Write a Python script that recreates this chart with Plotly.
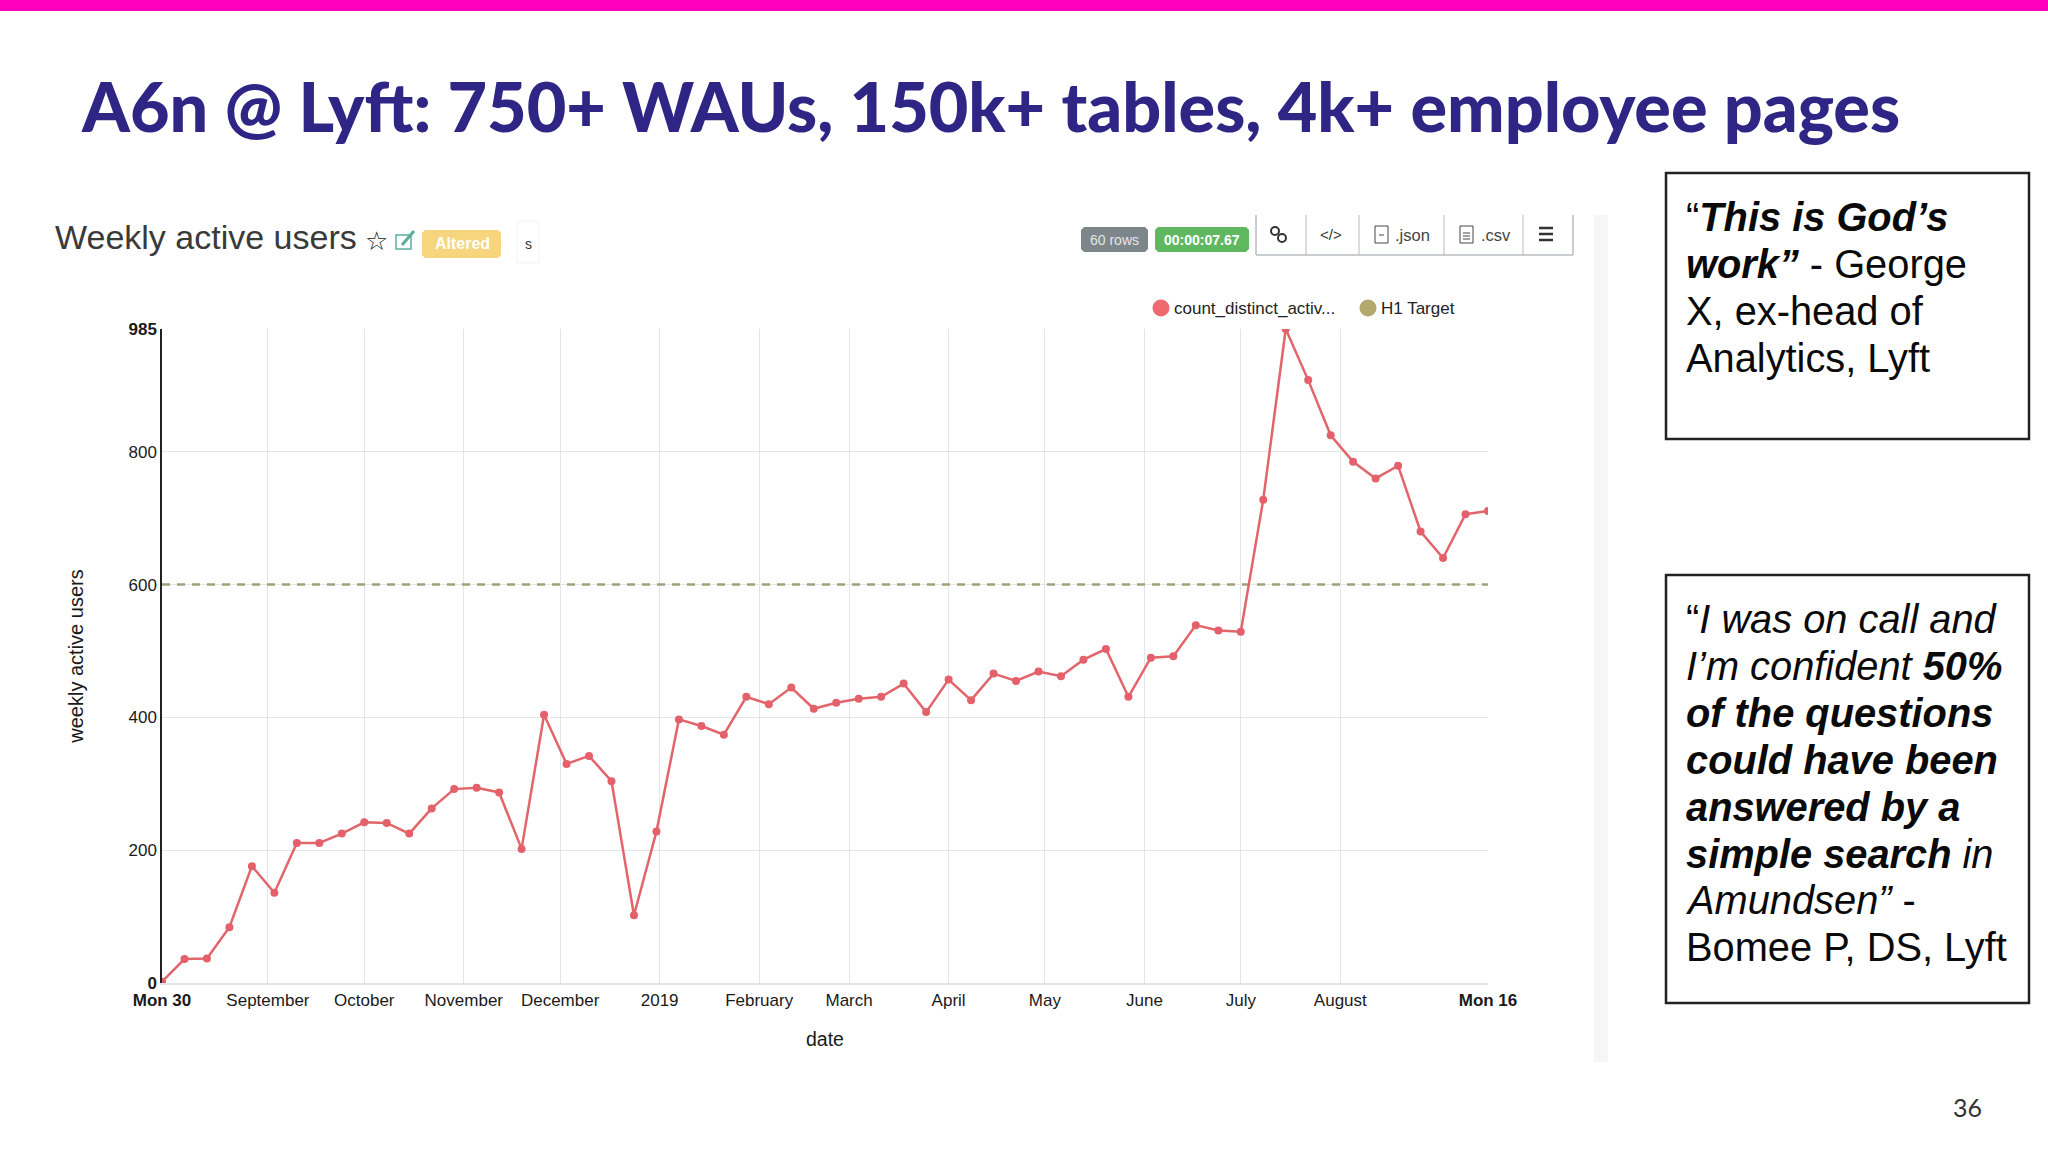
import plotly.graph_objects as go

# weekly points, 60 rows
dates = ["2018-07-30", "2018-08-06", "2018-08-13", "2018-08-20", "2018-08-27", "2018-09-03", "2018-09-10", "2018-09-17",
         "2018-09-24", "2018-10-01", "2018-10-08", "2018-10-15", "2018-10-22", "2018-10-29", "2018-11-05", "2018-11-12",
         "2018-11-19", "2018-11-26", "2018-12-03", "2018-12-10", "2018-12-17", "2018-12-24", "2018-12-31", "2019-01-07",
         "2019-01-14", "2019-01-21", "2019-01-28", "2019-02-04", "2019-02-11", "2019-02-18", "2019-02-25", "2019-03-04",
         "2019-03-11", "2019-03-18", "2019-03-25", "2019-04-01", "2019-04-08", "2019-04-15", "2019-04-22", "2019-04-29",
         "2019-05-06", "2019-05-13", "2019-05-20", "2019-05-27", "2019-06-03", "2019-06-10", "2019-06-17", "2019-06-24",
         "2019-07-01", "2019-07-08", "2019-07-15", "2019-07-22", "2019-07-29", "2019-08-05", "2019-08-12", "2019-08-19",
         "2019-08-26", "2019-09-02", "2019-09-09", "2019-09-16"]
wau = [2, 36, 37, 84, 176, 136, 211, 211, 225, 242, 241, 225, 263, 292, 294, 287, 202, 404, 330, 342,
       304, 102, 228, 397, 387, 374, 431, 420, 445, 413, 422, 428, 431, 451, 408, 457, 426, 466, 455, 469,
       462, 487, 503, 431, 490, 492, 539, 531, 529, 728, 985, 908, 825, 785, 760, 779, 680, 640, 706, 711]
target = [600] * 60

x_tickvals = ["2018-07-30", "2018-09-01", "2018-10-01", "2018-11-01", "2018-12-01", "2019-01-01", "2019-02-01",
              "2019-03-01", "2019-04-01", "2019-05-01", "2019-06-01", "2019-07-01", "2019-08-01", "2019-09-16"]
x_ticktext = ["<b>Mon 30</b>", "September", "October", "November", "December", "2019", "February",
              "March", "April", "May", "June", "July", "August", "<b>Mon 16</b>"]
y_tickvals = [0, 200, 400, 600, 800, 985]
y_ticktext = ["<b>0</b>", "200", "400", "600", "800", "<b>985</b>"]

quote_one = ["“<b><i>This is God’s</i></b>", "<b><i>work”</i></b> - George", "X, ex-head of", "Analytics, Lyft"]
quote_two = ["“<i>I was on call and</i>", "<i>I’m confident </i><b><i>50%</i></b>", "<b><i>of the questions</i></b>",
             "<b><i>could have been</i></b>", "<b><i>answered by a</i></b>", "<b><i>simple search</i></b><i> in</i>",
             "<i>Amundsen”</i> -", "Bomee P, DS, Lyft"]

W, H = 2048, 1152
LEFT, RIGHT, TOP, BOTTOM = 162, 1488, 329, 983
SANS = "Liberation Sans"


# page pixels to paper coordinates, paper is the plot area
def px(a):
    return (a - LEFT) / (RIGHT - LEFT)


def py(a):
    return (BOTTOM - a) / (BOTTOM - TOP)


shapes = []
annotations = []


def box(x0, y0, x1, y1, fill="rgba(0,0,0,0)", line=None, width=1):
    shapes.append(dict(type="rect", xref="paper", yref="paper", x0=px(x0), x1=px(x1), y0=py(y0), y1=py(y1),
                       fillcolor=fill, line=dict(color=line or "rgba(0,0,0,0)", width=width if line else 0)))


def badge(x0, y0, x1, y1, fill):
    # rounded corners, cut at 3px
    pts = [(x0 + 3, y0), (x1 - 3, y0), (x1, y0 + 3), (x1, y1 - 3), (x1 - 3, y1), (x0 + 3, y1), (x0, y1 - 3), (x0, y0 + 3)]
    path = "M " + " L ".join(f"{px(a)} {py(b)}" for a, b in pts) + " Z"
    shapes.append(dict(type="path", xref="paper", yref="paper", path=path, fillcolor=fill, line=dict(width=0)))


def seg(x0, y0, x1, y1, color="#b9bcc0", width=1.5):
    shapes.append(dict(type="line", xref="paper", yref="paper", x0=px(x0), x1=px(x1), y0=py(y0), y1=py(y1),
                       line=dict(color=color, width=width)))


def dot(cx, cy, r, fill, line=None, width=1):
    shapes.append(dict(type="circle", xref="paper", yref="paper", x0=px(cx - r), x1=px(cx + r), y0=py(cy - r), y1=py(cy + r),
                       fillcolor=fill, line=dict(color=line or "rgba(0,0,0,0)", width=width if line else 0)))


def label(x, y, text, size, color="#111111", family=SANS, anchor="left", weight=None):
    font = dict(family=family, size=size, color=color)
    if weight:
        font["weight"] = weight
    annotations.append(dict(xref="paper", yref="paper", x=px(x), y=py(y), text=text, showarrow=False,
                            xanchor=anchor, yanchor="middle", borderpad=0, font=font))


# slide furniture
box(0, 0, W, 11, fill="#FF00BF")
label(80, 106, "A6n @ Lyft: 750+ WAUs, 150k+ tables, 4k+ employee pages", 68.3, color="#2E2585", family="Lato", weight=900)
label(1952, 1107, "36", 25, color="#333333", family="Lato")
box(1594, 215, 1608, 1062, fill="#F6F6F9")

# dashboard header
label(54, 237, "Weekly active users", 34, color="#3a3a3a")
label(376, 241, "☆", 26, color="#222222", family="DejaVu Sans", anchor="center")
box(396, 235, 411, 249, line="#5BAE9D", width=1.5)
seg(402, 245, 414, 231, color="#5BAE9D", width=3)
badge(422, 230, 501, 258, "#F6D57E")
label(462, 244, "<b>Altered</b>", 16, color="#ffffff", anchor="center")
box(517, 221, 539, 263, line="#F3F3F6", width=1)
label(528, 244, "s", 14, color="#333333", anchor="center")
badge(1081, 227, 1148, 252, "#7C868B")
label(1114, 240, "60 rows", 14, color="#E4E6E8", anchor="center")
badge(1155, 227, 1249, 252, "#5FB760")
label(1202, 240, "<b>00:00:07.67</b>", 14, color="#ffffff", anchor="center")

# button group, open at the top
seg(1256, 215, 1256, 255)
seg(1256, 255, 1573, 255)
seg(1573, 215, 1573, 255)
for bx in [1306, 1359, 1444, 1523]:
    seg(bx, 215, bx, 255, width=1)
dot(1275, 231, 4, "rgba(0,0,0,0)", line="#333333", width=2)
dot(1282, 238, 4, "rgba(0,0,0,0)", line="#333333", width=2)
label(1331, 235, "&lt;/&gt;", 15, color="#333333", anchor="center")
box(1375, 226, 1388, 243, line="#444444", width=1)
seg(1379, 235, 1384, 235, color="#444444", width=1)
label(1394, 235, ".json", 16.5, color="#444444")
box(1460, 226, 1473, 243, line="#444444", width=1)
for ly in [233, 236, 239]:
    seg(1463, ly, 1470, ly, color="#444444", width=1)
label(1480, 235, ".csv", 16.5, color="#444444")
for hy in [228, 234, 240]:
    seg(1539, hy, 1553, hy, color="#333333", width=2.5)

# chart legend
dot(1161, 308, 8.5, "#EE6A6F")
label(1173, 308, "count_distinct_activ...", 17, color="#222222")
dot(1368, 308, 8.5, "#B2A96F")
label(1380, 308, "H1 Target", 17, color="#222222")

# quote boxes
box(1666, 173, 2029, 439, line="#222222", width=2.5)
box(1666, 575, 2029, 1003, line="#222222", width=2.5)
for line_y, line_text in zip([217, 264, 311, 358], quote_one):
    label(1685, line_y, line_text, 39.8, color="#0a0a0a")
for line_y, line_text in zip([619, 666, 713, 760, 807, 854, 900, 947], quote_two):
    label(1685, line_y, line_text, 39.8, color="#0a0a0a")

fig = go.Figure()
fig.add_trace(go.Scatter(x=dates, y=target, mode="lines", name="H1 Target",
                         line=dict(color="#A3A078", width=2.5, dash="8px 7px")))
fig.add_trace(go.Scatter(x=dates, y=wau, mode="lines+markers", name="count_distinct_activ...",
                         line=dict(color="#E2656B", width=2.5), marker=dict(color="#E4616B", size=8)))
fig.update_layout(
    width=W,
    height=H,
    showlegend=False,
    paper_bgcolor="#ffffff",
    plot_bgcolor="#ffffff",
    margin=dict(l=LEFT, r=W - RIGHT, t=TOP, b=H - BOTTOM, pad=0),
    font=dict(family=SANS, size=17, color="#1a1a1a"),
    shapes=shapes,
    annotations=annotations,
    xaxis=dict(range=[dates[0], dates[-1]], tickmode="array", tickvals=x_tickvals, ticktext=x_ticktext, tickangle=0,
               showgrid=True, gridcolor="#E4E4EB", gridwidth=1.25, showline=True, linecolor="#E4E4EB", linewidth=1.5,
               zeroline=False, title=dict(text="date", standoff=23, font=dict(size=19.5)), ticklabelstandoff=1),
    yaxis=dict(range=[0, 985], tickmode="array", tickvals=y_tickvals, ticktext=y_ticktext,
               showgrid=True, gridcolor="#E4E4EB", gridwidth=1.25, showline=True, linecolor="#222222", linewidth=1.5,
               zeroline=False, title=dict(text="weekly active users", standoff=39, font=dict(size=20))),
)
fig.write_html("out.html", config={"displayModeBar": False}, post_script="document.body.style.margin='0';")
